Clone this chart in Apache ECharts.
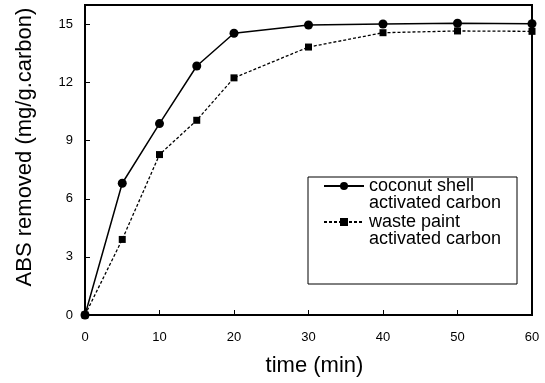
<!DOCTYPE html>
<html>
<head>
<meta charset="utf-8">
<script src="https://cdn.jsdelivr.net/npm/echarts@6/dist/echarts.min.js"></script>
<style>
html,body{margin:0;padding:0;background:#fff;}
#chart{width:545px;height:383px;}
</style>
</head>
<body>
<div id="chart"></div>
<script>
var timeMin = [0, 5, 10, 15, 20, 30, 40, 50, 60];
var coconutShell = [0, 6.8, 9.88, 12.85, 14.54, 14.97, 15.02, 15.06, 15.03];
var wastePaint = [0, 3.9, 8.28, 10.05, 12.24, 13.83, 14.57, 14.66, 14.64];
var seriesNames = ['coconut shell\nactivated carbon', 'waste paint\nactivated carbon'];
var xTitle = 'time (min)';
var yTitle = 'ABS removed (mg/g.carbon)';

function pairs(xs, ys) { return xs.map(function (x, i) { return [x, ys[i]]; }); }

var FONT = '"Liberation Sans", Arial, sans-serif';
var chart = echarts.init(document.getElementById('chart'), null, {renderer: 'canvas'});
chart.setOption({
  animation: false,
  backgroundColor: '#fff',
  grid: {left: 85, right: 13, top: 5, bottom: 68, show: true, borderColor: '#000', borderWidth: 2, backgroundColor: 'transparent'},
  graphic: [{
    type: 'rect', z: 1,
    shape: {x: 308, y: 177, width: 209, height: 107},
    style: {fill: '#fff', stroke: '#000', lineWidth: 1}
  }],
  legend: {
    orient: 'vertical', left: 323, top: 160, z: 10,
    itemWidth: 40, itemHeight: 10, itemGap: -16,
    padding: 0,
    formatter: function (name) {
      return '{g| }\n{t|' + name.split('\n').join('}\n{t|') + '}';
    },
    textStyle: {
      fontFamily: FONT, fontSize: 18, lineHeight: 17, color: '#000',
      rich: {
        g: {fontFamily: FONT, fontSize: 18, lineHeight: 17},
        t: {fontFamily: FONT, fontSize: 18, lineHeight: 17, color: '#000'}
      }
    },
    data: seriesNames
  },
  xAxis: {
    type: 'value', min: 0, max: 60, interval: 10,
    name: xTitle, nameLocation: 'middle', nameGap: 40,
    nameTextStyle: {fontFamily: FONT, fontSize: 22, color: '#000', padding: [0, 0, 0, 12]},
    axisLine: {lineStyle: {color: '#000', width: 2}},
    axisTick: {inside: true, length: 5, lineStyle: {color: '#000'}},
    axisLabel: {fontFamily: FONT, fontSize: 13, color: '#000', margin: 16},
    splitLine: {show: false}
  },
  yAxis: {
    type: 'value', min: 0, max: 16, interval: 3,
    name: yTitle, nameLocation: 'middle', nameGap: 49,
    nameTextStyle: {fontFamily: FONT, fontSize: 22, color: '#000', padding: [0, 0, 0, 26]},
    axisLine: {lineStyle: {color: '#000', width: 2}},
    axisTick: {inside: true, length: 5, lineStyle: {color: '#000'}},
    axisLabel: {fontFamily: FONT, fontSize: 13, color: '#000', margin: 12,
      formatter: function (v) { return v % 3 === 0 ? String(v) : ''; }},
    splitLine: {show: false}
  },
  series: [
    {
      name: seriesNames[0], type: 'line', data: pairs(timeMin, coconutShell),
      symbol: 'circle', symbolSize: 9, z: 3,
      itemStyle: {color: '#000'},
      lineStyle: {color: '#000', width: 1.5, type: 'solid'}
    },
    {
      name: seriesNames[1], type: 'line', data: pairs(timeMin, wastePaint),
      symbol: 'rect', symbolSize: 7, z: 3,
      itemStyle: {color: '#000'},
      lineStyle: {color: '#000', width: 1.3, type: [3, 2]}
    }
  ]
});
</script>
</body>
</html>
